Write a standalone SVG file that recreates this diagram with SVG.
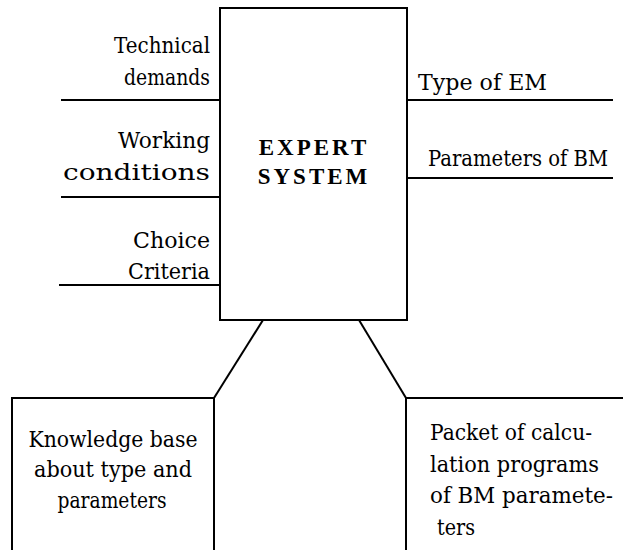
<svg xmlns="http://www.w3.org/2000/svg" width="623" height="550" viewBox="0 0 623 550">
<style>
.ln{stroke:#000;stroke-width:2;fill:none}
.bx{stroke:#000;stroke-width:2;fill:#fff}
.t{font-family:"DejaVu Serif","Liberation Serif",serif;font-size:22px;fill:#000}
.r{text-anchor:end}
.c{text-anchor:middle}
.b{font-family:"Liberation Serif",serif;font-weight:bold;font-size:23px;letter-spacing:3px}
</style>
<rect width="623" height="550" fill="#fff"/>
<g id="connectors">
<line class="ln" x1="61" y1="100" x2="220" y2="100"/>
<line class="ln" x1="61" y1="197" x2="220" y2="197"/>
<line class="ln" x1="59" y1="285" x2="220" y2="285"/>
<line class="ln" x1="407" y1="100" x2="613" y2="100"/>
<line class="ln" x1="407" y1="178" x2="613" y2="178"/>
<line class="ln" x1="263" y1="320" x2="214" y2="398"/>
<line class="ln" x1="359" y1="320" x2="406" y2="398"/>
</g>
<g id="inputs">
<text class="t r" x="210" y="53" textLength="96" lengthAdjust="spacingAndGlyphs">Technical</text>
<text class="t r" x="210" y="85" textLength="86" lengthAdjust="spacingAndGlyphs">demands</text>
<text class="t r" x="210" y="148" textLength="92" lengthAdjust="spacingAndGlyphs">Working</text>
<text class="t r" x="210" y="180" textLength="147" lengthAdjust="spacingAndGlyphs">conditions</text>
<text class="t r" x="210" y="248" textLength="77" lengthAdjust="spacingAndGlyphs">Choice</text>
<text class="t r" x="210" y="279" textLength="82" lengthAdjust="spacingAndGlyphs">Criteria</text>
</g>
<g id="outputs">
<text class="t" x="418" y="90" textLength="129" lengthAdjust="spacingAndGlyphs">Type of EM</text>
<text class="t" x="428" y="166" textLength="180" lengthAdjust="spacingAndGlyphs">Parameters of BM</text>
</g>
<g id="expert-system">
<rect class="bx" x="220" y="8" width="187" height="312"/>
<text class="b c" x="314" y="155">EXPERT</text>
<text class="b c" x="314" y="184">SYSTEM</text>
</g>
<g id="knowledge-base">
<rect class="bx" x="12" y="398" width="202" height="160"/>
<text class="t c" x="113" y="447" textLength="169" lengthAdjust="spacingAndGlyphs">Knowledge base</text>
<text class="t c" x="113" y="477" textLength="158" lengthAdjust="spacingAndGlyphs">about type and</text>
<text class="t c" x="112" y="508" textLength="109" lengthAdjust="spacingAndGlyphs">parameters</text>
</g>
<g id="calculation-programs">
<rect class="bx" x="406" y="398" width="230" height="160"/>
<text class="t" x="430" y="440" textLength="162" lengthAdjust="spacingAndGlyphs">Packet of calcu-</text>
<text class="t" x="430" y="472" textLength="169" lengthAdjust="spacingAndGlyphs">lation programs</text>
<text class="t" x="430" y="503" textLength="183" lengthAdjust="spacingAndGlyphs">of BM paramete-</text>
<text class="t" x="437" y="535" textLength="38" lengthAdjust="spacingAndGlyphs">ters</text>
</g>
</svg>
